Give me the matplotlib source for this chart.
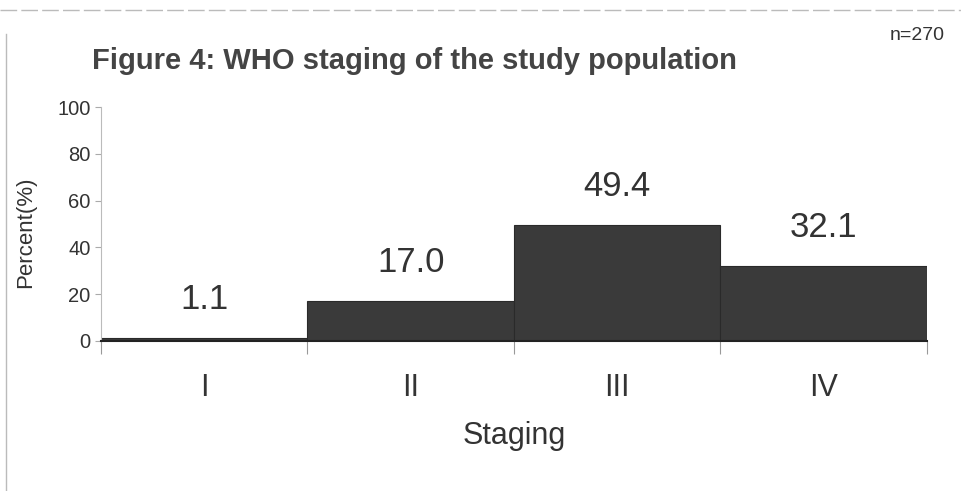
import matplotlib.pyplot as plt
from matplotlib.lines import Line2D

plt.rcParams['font.family'] = ['Liberation Sans', 'DejaVu Sans']

stages = ['I', 'II', 'III', 'IV']
percent = [1.1, 17.0, 49.4, 32.1]
yticks = [0, 20, 40, 60, 80, 100]

txt = '#333333'

fig = plt.figure(figsize=(9.62, 4.91), dpi=100)
ax = fig.add_axes([0.105, 0.3055, 0.8585, 0.4765])

x = list(range(len(stages)))
ax.bar(x, percent, width=1.0, color='#3a3a3a', edgecolor='#2a2a2a', linewidth=0.8)

for xi, v in zip(x, percent):
    ax.annotate(f'{v:.1f}', (xi, v), xytext=(0, 16), textcoords='offset points',
                ha='center', va='bottom', fontsize=25, color=txt)

ax.set_xlim(-0.5, len(stages) - 0.5)
ax.set_ylim(0, 100)
ax.set_yticks(yticks)
ax.tick_params(axis='y', labelsize=14.5, colors=txt, length=4, color='#aaaaaa')

# category ticks sit on the bar boundaries, labels in the middle
ax.set_xticks([i - 0.5 for i in range(len(stages) + 1)])
ax.set_xticklabels([])
ax.set_xticks(x, minor=True)
ax.set_xticklabels(stages, minor=True, fontsize=22, color=txt)
ax.tick_params(axis='x', which='major', length=9, color='#999999', direction='out')
ax.tick_params(axis='x', which='minor', length=0, pad=23)

for s in ['top', 'right']:
    ax.spines[s].set_visible(False)
ax.spines['left'].set_color('#bbbbbb')
ax.spines['bottom'].set_color('#222222')
ax.spines['bottom'].set_linewidth(1.5)

ax.set_ylabel('Percent(%)', fontsize=16, color=txt)
ax.yaxis.set_label_coords(-0.079, 0.466)
ax.set_xlabel('Staging', fontsize=22, color=txt, labelpad=13)

fig.text(0.0955, 0.876, 'Figure 4: WHO staging of the study population',
         fontsize=21, fontweight='bold', color='#444444', va='center', ha='left')
fig.text(0.982, 0.928, 'n=270', fontsize=14, color=txt, ha='right', va='center')

# frame lines around the figure box
fig.add_artist(Line2D([0.0, 1.0], [0.98, 0.98], color='#bbbbbb', lw=1,
                      linestyle=(0, (12, 3)), transform=fig.transFigure))
fig.add_artist(Line2D([0.006, 0.006], [0.0, 0.93], color='#bbbbbb', lw=1,
                      transform=fig.transFigure))

fig.savefig('out.png', dpi=100)
